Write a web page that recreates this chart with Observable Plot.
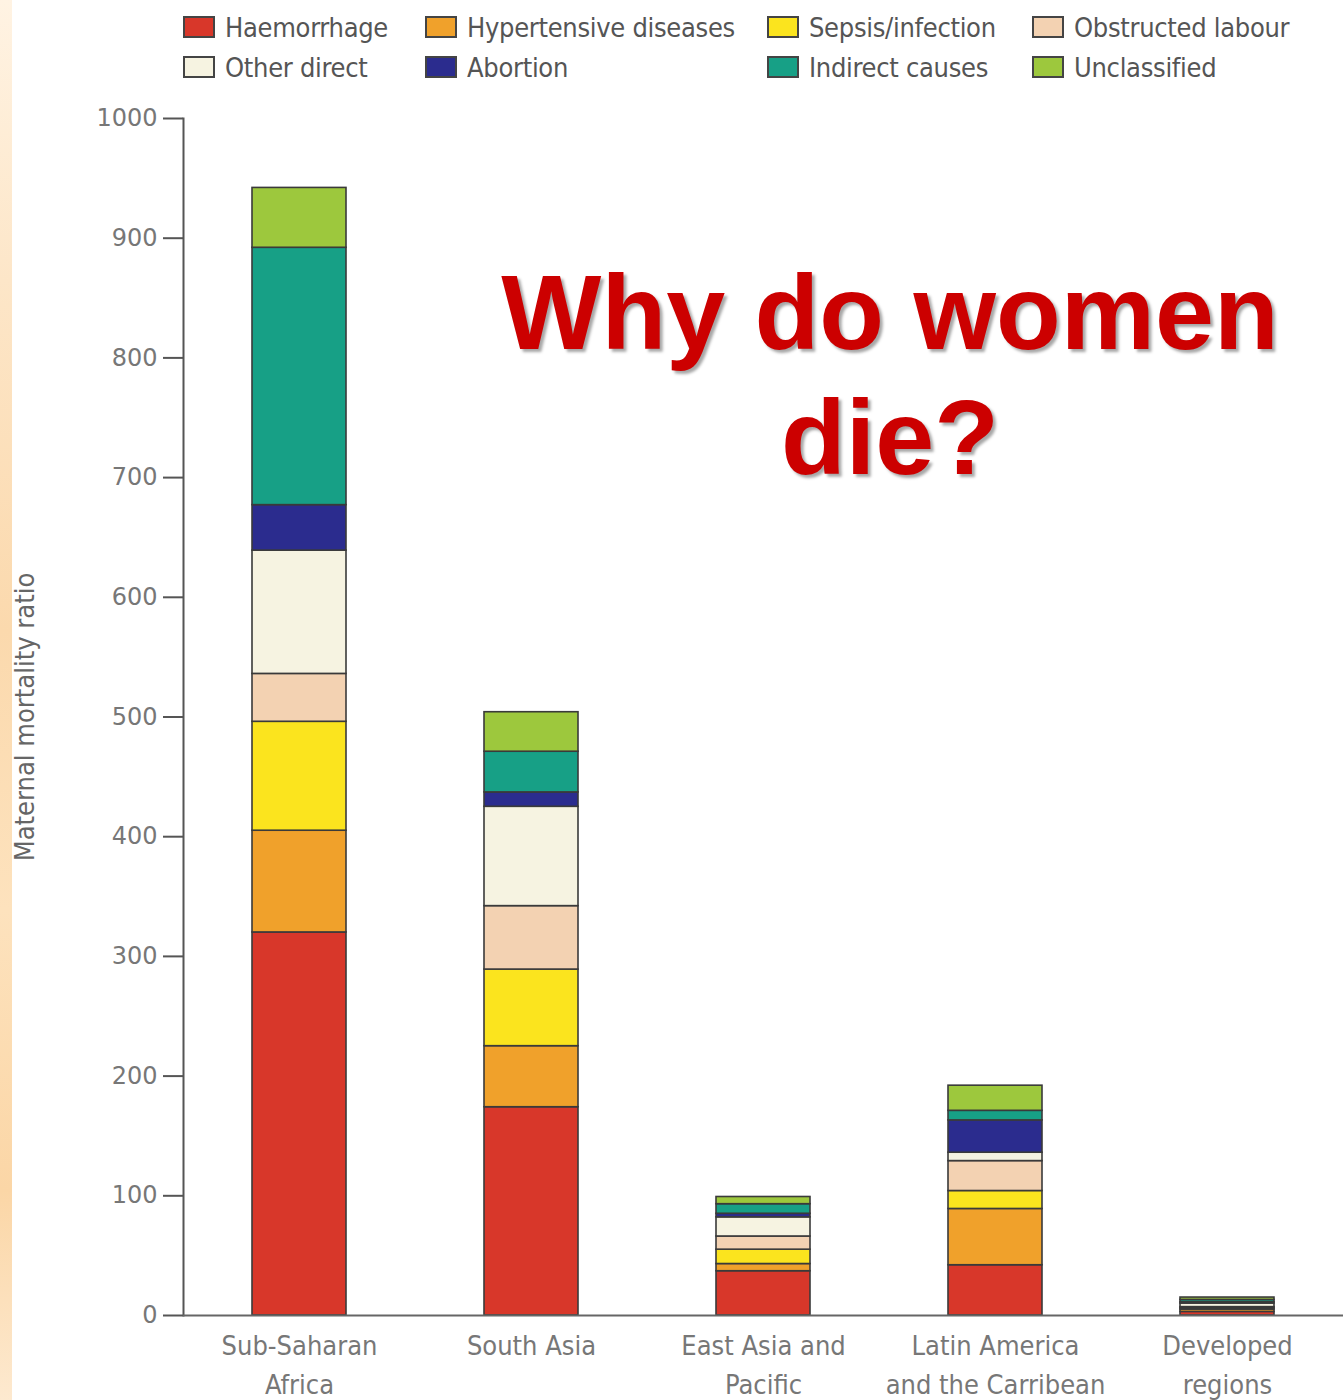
<!DOCTYPE html>
<html>
<head>
<meta charset="utf-8">
<script src="https://cdn.jsdelivr.net/npm/d3@7"></script>
<script src="https://cdn.jsdelivr.net/npm/@observablehq/plot@0.6"></script>
<style>
  html, body { margin: 0; padding: 0; background: #fff; }
  #wrap { position: relative; width: 1344px; height: 1400px; overflow: hidden; background: #fff; }
  #deco { position: absolute; left: 0; top: 0; width: 12px; height: 1400px;
    background: linear-gradient(180deg, #fff3e3 0%, #fde6c8 20%, #fbd9ad 45%, #fde2bd 65%, #fbd6a6 85%, #fde9cf 100%); }
  #legend { position: absolute; left: 0; top: 0; width: 1344px; height: 95px;
    font-family: "Liberation Sans Narrow", "DejaVu Sans Condensed", "Roboto", sans-serif; font-size: 27px; color: #555; }
  .item { position: absolute; display: flex; align-items: center; height: 30px; white-space: nowrap; letter-spacing: -0.3px; }
  .sw { width: 32px; height: 22px; border: 2px solid #444; box-sizing: border-box; margin-right: 10px; }
  #chart { position: absolute; left: 0; top: 95px; }
  #title { position: absolute; left: 440px; width: 900px; top: 250px; text-align: center;
    font-family: "Liberation Sans", Arial, sans-serif; font-weight: bold; font-size: 106px; line-height: 125px;
    color: #cc0000; text-shadow: 3px 3px 3px rgba(0,0,0,0.35); }
</style>
</head>
<body>
<div id="wrap">
  <div id="deco"></div>
  <div id="legend"></div>
  <div id="chart"></div>
  <div id="title">Why do women<br>die?</div>
</div>
<script>
const regions = ["Sub-Saharan Africa", "South Asia", "East Asia and Pacific", "Latin America and the Carribean", "Developed regions"];
const regionLabels = ["Sub-Saharan\nAfrica", "South Asia", "East Asia and\nPacific", "Latin America\nand the Carribean", "Developed\nregions"];
const causes = ["Haemorrhage", "Hypertensive diseases", "Sepsis/infection", "Obstructed labour", "Other direct", "Abortion", "Indirect causes", "Unclassified"];
const causeColors = ["#d8372a", "#f0a12b", "#fbe41e", "#f3d2b2", "#f6f3e1", "#2b2c8e", "#17a086", "#9dc83d"];
const legendOrder = ["Haemorrhage", "Hypertensive diseases", "Sepsis/infection", "Obstructed labour", "Other direct", "Abortion", "Indirect causes", "Unclassified"];

const haemorrhage  = [320, 174, 37, 42, 3];
const hypertensive = [85, 51, 6, 47, 2];
const sepsis       = [91, 64, 12, 15, 1];
const obstructed   = [40, 53, 11, 25, 1];
const otherDirect  = [103, 83, 16, 7, 3];
const abortion     = [38, 12, 3, 27, 1];
const indirect     = [215, 34, 8, 8, 2];
const unclassified = [50, 33, 6, 21, 2];
const yTicks = [0, 100, 200, 300, 400, 500, 600, 700, 800, 900, 1000];

const series = [haemorrhage, hypertensive, sepsis, obstructed, otherDirect, abortion, indirect, unclassified];
const data = [];
regions.forEach((r, i) => {
  causes.forEach((c, j) => data.push({region: r, cause: c, value: series[j][i]}));
});

// legend
const legend = document.getElementById("legend");
const colX = [183, 425, 767, 1032];
const rowY = [12, 52];
legendOrder.forEach((c, k) => {
  const it = document.createElement("div");
  it.className = "item";
  it.style.left = colX[k % 4] + "px";
  it.style.top = rowY[Math.floor(k / 4)] + "px";
  const sw = document.createElement("div");
  sw.className = "sw";
  sw.style.background = causeColors[causes.indexOf(c)];
  it.appendChild(sw);
  it.appendChild(document.createTextNode(c));
  legend.appendChild(it);
});

const chart = Plot.plot({
  width: 1344,
  height: 1305,
  marginTop: 23,
  marginBottom: 85,
  marginLeft: 183,
  marginRight: 1,
  style: {background: "transparent", fontFamily: "DejaVu Sans, sans-serif"},
  x: {domain: regions, paddingInner: 0.595, paddingOuter: 0.2975, axis: null},
  y: {domain: [0, 1000], axis: null},
  color: {domain: causes, range: causeColors},
  marks: [
    Plot.barY(data, {x: "region", y: "value", fill: "cause", order: causes, stroke: "#3a3a3a", strokeWidth: 1.6}),
    Plot.frame({anchor: "left", stroke: "#555", strokeWidth: 2}),
    Plot.ruleY([0], {stroke: "#666", strokeWidth: 2}),
    Plot.axisY({ticks: yTicks, tickSize: 20, tickPadding: 6, fontSize: 24, color: "#777", stroke: "#555", strokeWidth: 2, label: null, tickFormat: d => String(d)}),
    Plot.text(regions, {x: d => d, text: (d, i) => regionLabels[i], frameAnchor: "bottom", lineAnchor: "top", dy: 12, fontSize: 27, lineHeight: 1.44, fill: "#777", fontFamily: "Liberation Sans Narrow, DejaVu Sans Condensed, sans-serif"}),
    Plot.text(["Maternal mortality ratio"], {text: d => d, frameAnchor: "left", textAnchor: "middle", dx: -158, rotate: -90, fontSize: 27, fill: "#666", fontFamily: "Liberation Sans Narrow, DejaVu Sans Condensed, sans-serif"})
  ]
});
document.getElementById("chart").appendChild(chart);
</script>
</body>
</html>
